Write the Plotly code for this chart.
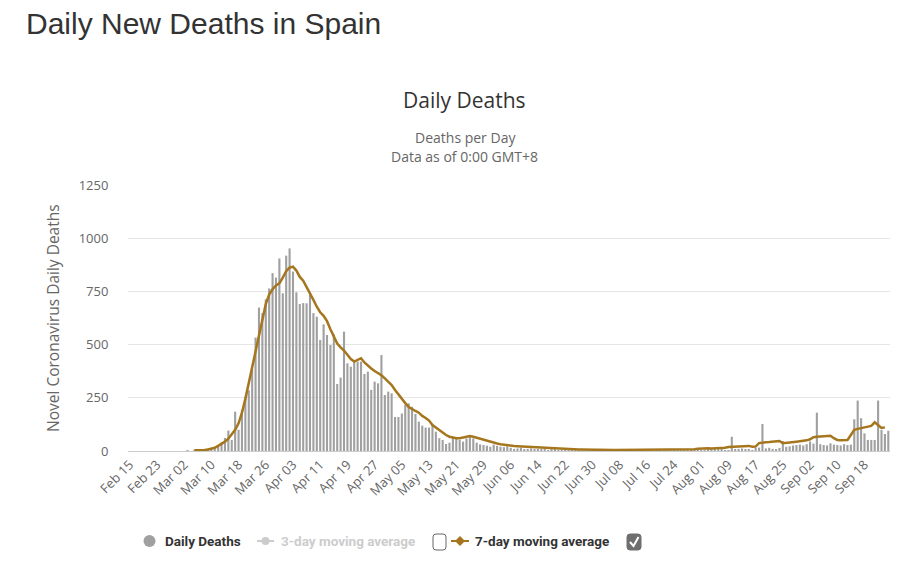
import pandas as pd
import plotly.graph_objects as go

# ---------------- data ----------------
start_date = "2020-02-15"
n_days = 224

daily_deaths = (
    [0] * 17 +
    [1, 0, 1, 2, 5, 7, 11, 7, 19, 20,                     # Mar 03 - Mar 12
     41, 61, 96, 52, 185, 100, 193, 255, 285, 385,        # Mar 13 - Mar 22
     533, 674, 648, 713, 764, 836, 815, 905, 741, 918,    # Mar 23 - Apr 01
     952, 843, 746, 691, 695, 694, 744, 648, 631, 522,    # Apr 02 - Apr 11
     595, 545, 498, 548, 315, 345, 561, 412, 396, 428,    # Apr 12 - Apr 21
     420, 420, 362, 373, 287, 326, 318, 451, 263, 279,    # Apr 22 - May 01
     271, 160, 160, 176, 216, 224, 208, 174, 138, 119,    # May 02 - May 11
     110, 110, 125, 91, 60, 52, 33, 39, 67, 59,           # May 12 - May 21
     52, 44, 59, 67, 59, 39, 31, 28, 25, 20,              # May 22 - May 31
     30, 24, 20, 18, 22, 15, 10, 12, 15, 8,               # Jun 01 - Jun 10
     10, 12, 8, 6, 5, 8, 4, 6, 5, 3,                      # Jun 11 - Jun 20
     4, 2, 5, 3, 2, 4, 3, 2, 3, 2,                        # Jun 21 - Jun 30
     3, 4, 2, 1, 3, 2, 2, 3, 1, 4,                        # Jul 01 - Jul 10
     2, 3, 2, 1, 3, 2, 4, 2, 3, 2,                        # Jul 11 - Jul 20
     5, 3, 2, 6, 4, 8, 5, 10, 6, 9,                       # Jul 21 - Jul 30
     8, 3, 2, 12, 8, 10, 6, 9, 4, 3,                      # Jul 31 - Aug 09
     67, 6, 10, 12, 9, 5, 4, 14, 16, 127,                 # Aug 10 - Aug 19
     12, 15, 10, 8, 14, 47, 20, 22, 26, 28,               # Aug 20 - Aug 29
     30, 26, 32, 45, 35, 180, 32, 28, 26, 36,             # Aug 30 - Sep 08
     30, 28, 26, 32, 28, 30, 149, 237, 154, 83,           # Sep 09 - Sep 18
     52, 52, 52, 237, 99, 80, 95]                         # Sep 19 - Sep 25
)

avg_7day = (
    [None] * 19 +
    [3, 3, 4, 5, 7, 10, 15, 24,                           # Mar 05 - Mar 12
     33, 44, 58, 78, 100, 130, 180, 245, 320, 400,        # Mar 13 - Mar 22
     478, 555, 625, 690, 735, 760, 778, 788, 815, 845,    # Mar 23 - Apr 01
     862, 866, 848, 818, 800, 772, 742, 710, 678, 652,    # Apr 02 - Apr 11
     635, 610, 572, 540, 505, 487, 472, 452, 432, 420,    # Apr 12 - Apr 21
     428, 436, 416, 400, 388, 376, 366, 356, 341, 325,    # Apr 22 - May 01
     310, 287, 265, 245, 225, 207, 196, 188, 180, 165,    # May 02 - May 11
     155, 143, 122, 110, 100, 85, 75, 67, 62, 60,         # May 12 - May 21
     60, 63, 67, 70, 67, 62, 58, 52, 47, 43,              # May 22 - May 31
     39, 35, 32, 29, 27, 25, 23, 22, 21, 20,              # Jun 01 - Jun 10
     19, 18, 17, 16, 15, 14, 13, 12, 11, 10,              # Jun 11 - Jun 20
     9, 9, 8, 8, 7, 7, 7, 6, 6, 6,                        # Jun 21 - Jun 30
     6, 6, 5, 5, 5, 5, 5, 5, 5, 5,                        # Jul 01 - Jul 10
     5, 5, 5, 5, 5, 5, 5, 5, 5, 5,                        # Jul 11 - Jul 20
     5, 5, 6, 6, 6, 7, 7, 8, 8, 8,                        # Jul 21 - Jul 30
     10, 12, 14, 13, 12, 12, 13, 14, 15,                  # Jul 31 - Aug 08
     19, 20, 20, 21, 23, 25, 24, 20, 21, 37,              # Aug 09 - Aug 18
     40, 41, 42, 43, 44, 47, 37, 38, 39, 42,              # Aug 19 - Aug 28
     44, 46, 47, 50, 55, 65, 67, 68, 69, 70,              # Aug 29 - Sep 07
     72, 60, 52, 50, 51, 52, 75, 100, 104, 107,           # Sep 08 - Sep 17
     110, 113, 118, 135, 122, 108, 111]                   # Sep 18 - Sep 24
)
avg_7day = avg_7day[:n_days] + [None] * (n_days - len(avg_7day))

dates = pd.date_range(start_date, periods=n_days, freq="D")
categories = [d.strftime("%b %d") for d in dates]
tick_labels = categories[::8]

page_title = "Daily New Deaths in Spain"
chart_title = "Daily Deaths"
subtitle_1 = "Deaths per Day"
subtitle_2 = "Data as of 0:00 GMT+8"
y_title = "Novel Coronavirus Daily Deaths"
legend_names = ["Daily Deaths", "3-day moving average", "7-day moving average"]

# ---------------- styling ----------------
W, H = 899, 585
L, R, T, B = 128, 890, 185, 451
BAR_C = "#a0a0a0"
LINE_C = "#a5761d"
FONT = "Open Sans"


def X(px):
    return (px - L) / (R - L)


def Y(py):
    return (B - py) / (B - T)


def rrect(x0, y0, x1, y1, r):
    return (f"M {X(x0 + r)},{Y(y0)} L {X(x1 - r)},{Y(y0)} "
            f"Q {X(x1)},{Y(y0)} {X(x1)},{Y(y0 + r)} L {X(x1)},{Y(y1 - r)} "
            f"Q {X(x1)},{Y(y1)} {X(x1 - r)},{Y(y1)} L {X(x0 + r)},{Y(y1)} "
            f"Q {X(x0)},{Y(y1)} {X(x0)},{Y(y1 - r)} L {X(x0)},{Y(y0 + r)} "
            f"Q {X(x0)},{Y(y0)} {X(x0 + r)},{Y(y0)} Z")


fig = go.Figure()
fig.add_trace(go.Bar(x=categories, y=daily_deaths, name=legend_names[0],
                     marker=dict(color=BAR_C, line=dict(width=0))))
fig.add_trace(go.Scatter(x=categories, y=avg_7day, name=legend_names[2],
                         mode="lines", line=dict(color=LINE_C, width=2.5)))

ann = []
ann.append(dict(text=page_title, x=X(24), y=Y(24), xanchor="left", yanchor="middle",
                font=dict(family="Liberation Sans", size=30, color="#333333")))
ann.append(dict(text=chart_title, x=X(464.5), y=Y(100), xanchor="center", yanchor="middle",
                font=dict(family=FONT, size=21, color="#333333")))
ann.append(dict(text=subtitle_1, x=X(465), y=Y(137.5), xanchor="center", yanchor="middle",
                font=dict(family=FONT, size=14, color="#666666")))
ann.append(dict(text=subtitle_2, x=X(464), y=Y(156.5), xanchor="center", yanchor="middle",
                font=dict(family=FONT, size=14, color="#666666")))
ann.append(dict(text=y_title, x=X(53), y=Y(318), xanchor="center", yanchor="middle",
                textangle=-90, font=dict(family=FONT, size=15.5, color="#666666")))

LEG_Y = 541
LEG_FONT = "Roboto"
ann.append(dict(text="<b>%s</b>" % legend_names[0], x=X(163), y=Y(LEG_Y), xanchor="left",
                yanchor="middle", font=dict(family=LEG_FONT, size=13.5, color="#333333")))
ann.append(dict(text="<b>%s</b>" % legend_names[1], x=X(279), y=Y(LEG_Y), xanchor="left",
                yanchor="middle", font=dict(family=LEG_FONT, size=13.5, color="#cccccc")))
ann.append(dict(text="<b>%s</b>" % legend_names[2], x=X(473), y=Y(LEG_Y), xanchor="left",
                yanchor="middle", font=dict(family=LEG_FONT, size=13.5, color="#333333")))
for a in ann:
    a.update(xref="paper", yref="paper", showarrow=False)

shapes = []
# daily deaths marker
shapes.append(dict(type="circle", x0=X(143.5), x1=X(155.5), y0=Y(535), y1=Y(547),
                   fillcolor=BAR_C, line=dict(width=0)))
# 3-day marker (hidden series)
shapes.append(dict(type="line", x0=X(257), x1=X(274), y0=Y(LEG_Y), y1=Y(LEG_Y),
                   line=dict(color="#cccccc", width=2)))
shapes.append(dict(type="circle", x0=X(261.5), x1=X(269.5), y0=Y(537), y1=Y(545),
                   fillcolor="#cccccc", line=dict(width=0)))
# empty checkbox
shapes.append(dict(type="path", path=rrect(433, 534, 446, 550, 3),
                   fillcolor="white", line=dict(color="#666666", width=1)))
# 7-day marker
shapes.append(dict(type="line", x0=X(451), x1=X(469), y0=Y(LEG_Y), y1=Y(LEG_Y),
                   line=dict(color=LINE_C, width=2)))
shapes.append(dict(type="path",
                   path=f"M {X(460)},{Y(536)} L {X(465)},{Y(541)} L {X(460)},{Y(546)} L {X(455)},{Y(541)} Z",
                   fillcolor=LINE_C, line=dict(width=0)))
# checked checkbox
shapes.append(dict(type="path", path=rrect(627, 534, 641, 550, 3),
                   fillcolor="#6e6e6e", line=dict(color="#6e6e6e", width=1)))
shapes.append(dict(type="path",
                   path=f"M {X(630)},{Y(542)} L {X(633.5)},{Y(546)} L {X(638.5)},{Y(537)}",
                   line=dict(color="white", width=2)))
for s in shapes:
    s.update(xref="paper", yref="paper", layer="above")

fig.update_layout(
    width=W, height=H,
    margin=dict(l=L, r=W - R, t=T, b=H - B, pad=0),
    paper_bgcolor="white", plot_bgcolor="white",
    showlegend=False,
    bargap=0.38,
    annotations=ann,
    shapes=shapes,
    font=dict(family=FONT, color="#666666"),
)
fig.update_xaxes(type="category", range=[-0.5, n_days - 0.5],
                 tickmode="array", tickvals=tick_labels, ticktext=tick_labels,
                 tickangle=-45, tickfont=dict(family=FONT, size=13, color="#666666"),
                 showgrid=False, showline=True, linecolor="#cccccc", linewidth=1,
                 ticks="", zeroline=False)
fig.update_yaxes(range=[0, 1250], tick0=0, dtick=250,
                 showgrid=True, gridcolor="#e6e6e6", gridwidth=1,
                 zeroline=False, showline=False,
                 ticks="outside", ticklen=16, tickcolor="rgba(0,0,0,0)",
                 tickfont=dict(family=FONT, size=13, color="#666666"))

fig.write_html("out.html")
